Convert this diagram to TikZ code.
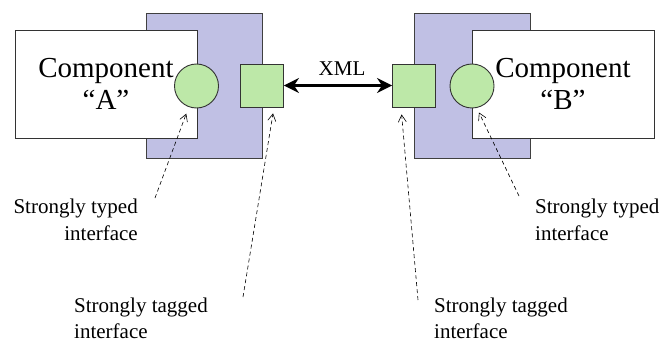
\documentclass[tikz,border=0pt]{standalone}
\usepackage{fontspec}
\setmainfont{Liberation Serif}
\usetikzlibrary{arrows.meta}
\definecolor{wrapfill}{HTML}{C0C0E4}
\definecolor{portfill}{HTML}{BDE8A8}
\tikzset{
  wrapper/.style={draw=black!75, fill=wrapfill, line width=0.9pt, minimum width=116pt, minimum height=145pt, inner sep=0pt},
  compbox/.style={draw=black!80, fill=white, line width=0.9pt, minimum width=182pt, minimum height=108pt, inner sep=0pt, align=center, font=\fontsize{29}{32.5}\selectfont},
  typedport/.style={circle, draw=black!80, fill=portfill, line width=0.9pt, minimum size=44pt, inner sep=0pt},
  taggedport/.style={rectangle, draw=black!80, fill=portfill, line width=0.9pt, minimum size=43pt, inner sep=0pt},
  note/.style={font=\fontsize{21}{26.5}\selectfont, inner sep=0pt},
  pointer/.style={dash pattern=on 4pt off 3pt, line width=0.6pt, -{Straight Barb[length=7pt,width=8pt,line width=0.6pt]}},
  xmlflow/.style={line width=3pt, {Stealth[length=15pt,width=15pt]}-{Stealth[length=15pt,width=15pt]}}
}
\begin{document}
\begin{tikzpicture}[x=1pt,y=-1pt]
  \useasboundingbox (0,0) rectangle (671,342);

  % component A with its wrapper
  \node[wrapper] (wA) at (204,85.5) {};
  \node[compbox] (bA) at (106,84) {Component\\``A''};
  \node[typedport] (cA) at (196.5,86) {};
  \node[taggedport] (sA) at (262,85.5) {};

  % component B with its wrapper
  \node[wrapper] (wB) at (472,85.5) {};
  \node[compbox] (bB) at (563,84) {Component\\``B''};
  \node[typedport] (cB) at (472,86) {};
  \node[taggedport] (sB) at (414,85.5) {};

  % XML exchange between the tagged ports
  \draw[xmlflow] (sA.east) -- (sB.west);
  \node[note, anchor=base] (xml) at (342,76) {XML};

  % explanatory labels (base anchor sits on the last line)
  \node[note, anchor=base east, align=right] (lA1) at (138,240) {Strongly typed\\interface};
  \node[note, anchor=base west, align=left] (lA2) at (74,338.5) {Strongly tagged\\interface};
  \node[note, anchor=base west, align=left] (lB1) at (535,240) {Strongly typed\\interface};
  \node[note, anchor=base west, align=left] (lB2) at (434,338.5) {Strongly tagged\\interface};

  % pointer origins next to the labels
  \coordinate (pA1) at (155,198);
  \coordinate (pA2) at (243,297);
  \coordinate (pB2) at (418,300);
  \coordinate (pB1) at (519,196);

  \draw[pointer, shorten >=7pt] (pA1) -- (cA);
  \draw[pointer, shorten >=6pt] (pA2) -- ([xshift=12pt]sA.south);
  \draw[pointer, shorten >=7pt] (pB2) -- ([xshift=-13pt]sB.south);
  \draw[pointer, shorten >=4.5pt] (pB1) -- ([xshift=5pt]cB.south);
\end{tikzpicture}
\end{document}
